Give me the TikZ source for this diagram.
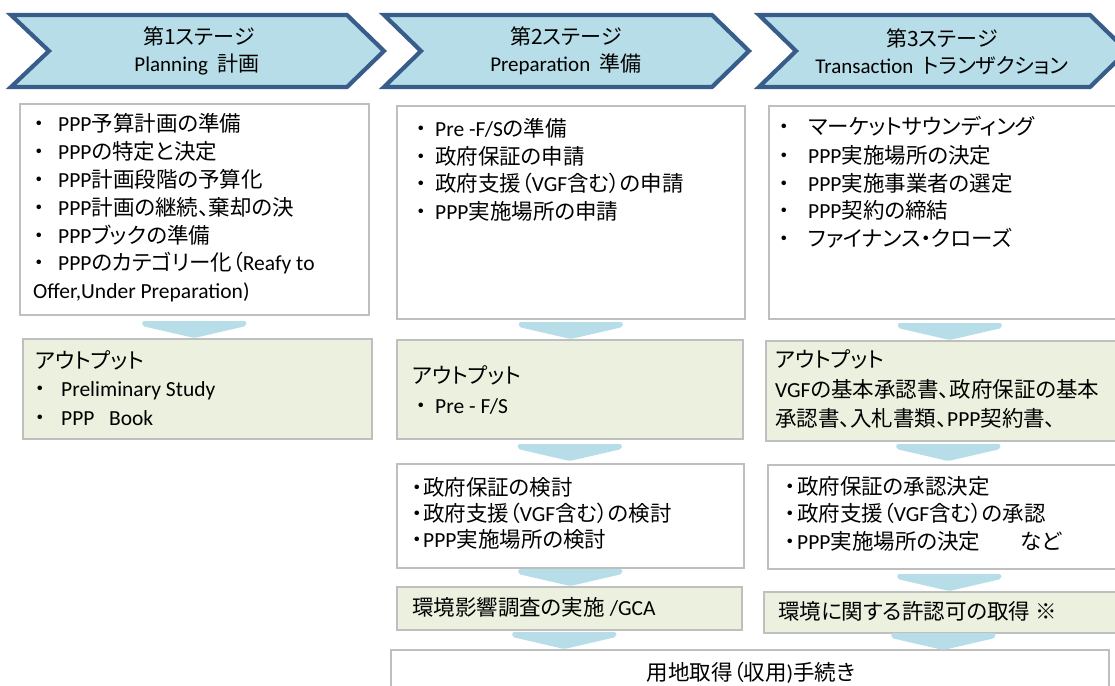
\documentclass[tikz,border=0pt]{standalone}
\usepackage{fontspec}
\setmainfont{Noto Sans CJK JP}[RawFeature=+palt]
\newfontfamily\latfont{Carlito}
\newcommand\lat[1]{{\latfont #1}}
\usetikzlibrary{calc}
\definecolor{chevfill}{HTML}{B7DEE8}
\definecolor{chevline}{HTML}{385D8A}
\definecolor{grnfill}{HTML}{EBF1DE}
\definecolor{boxline}{HTML}{BFBFBF}
\newcommand\bl[1]{\makebox[#1pt][l]{\makebox[20pt][c]{・}}}
\tikzset{
 chev/.style={fill=chevfill, draw=chevline, line width=4.2pt, line join=miter},
 wbox/.style={draw=boxline, line width=1.5pt, fill=white, rectangle, inner sep=0pt, anchor=north west},
 gbox/.style={wbox, fill=grnfill},
 ln/.style={anchor=base west, inner sep=0pt, text height=17pt, text depth=4pt, font=\fontsize{21.5}{28}\selectfont},
 lnc/.style={anchor=base, inner sep=0pt, text height=17pt, text depth=4pt, font=\fontsize{21.5}{28}\selectfont},
 hd/.style={anchor=base, inner sep=0pt, text height=17pt, text depth=4pt, font=\fontsize{21}{28}\selectfont},
 darr/.pic={\fill[chevfill, rounded corners=2pt] (-52,-17) -- (52,-17) -- (52,-12) -- (0,0) -- (-52,-12) -- cycle;}
}
\begin{document}
\begin{tikzpicture}[x=1pt,y=-1pt]
\useasboundingbox (0,0) rectangle (1115,685);
% stage chevrons
\draw[chev] (11,15) -- (347,15) -- (384,51) -- (347,87) -- (11,87) -- (49,51) -- cycle;
\draw[chev] (384,15) -- (712,15) -- (749,51) -- (712,87) -- (384,87) -- (421,51) -- cycle;
\draw[chev] (759,15) -- (1090,15) -- (1127,51) -- (1090,87) -- (759,87) -- (796,51) -- cycle;
\node[hd] (h1a) at (199,45) {第1ステージ};
\node[hd] (h1b) at (197,71) {\lat{Planning\ \ }計画};
\node[hd] (h2a) at (566,45) {第2ステージ};
\node[hd] (h2b) at (566,71) {\lat{Preparation\ \ }準備};
\node[hd] (h3a) at (942,46) {第3ステージ};
\node[hd] (h3b) at (942,73) {\lat{Transaction\ \ }トランザクション};

% boxes
\node[wbox, minimum width=349pt, minimum height=211pt] (c1w) at (19,103) {};
\node[gbox, minimum width=349pt, minimum height=100pt] (c1g) at (22,338) {};
\node[wbox, minimum width=348pt, minimum height=213pt] (c2w) at (396,105) {};
\node[gbox, minimum width=346pt, minimum height=99pt] (c2g) at (396,339) {};
\node[wbox, minimum width=347pt, minimum height=104pt] (c2w2) at (396,463) {};
\node[gbox, minimum width=345pt, minimum height=43pt] (c2g2) at (396,586) {};
\node[wbox, minimum width=718pt, minimum height=60pt] (bot) at (390,649) {};
\node[wbox, minimum width=362pt, minimum height=213pt] (c3w) at (768,105) {};
\node[gbox, minimum width=365pt, minimum height=100pt] (c3g) at (765,340) {};
\node[wbox, minimum width=363pt, minimum height=104pt] (c3w2) at (767,464) {};
\node[gbox, minimum width=367pt, minimum height=41pt] (c3g2) at (763,591) {};

% down arrows
\pic at (c1w.south |- c1g.north) {darr};
\pic at (c2w.south |- c2g.north) {darr};
\pic at ($(c2g.south |- c2w2.north)+(0,-2)$) {darr};
\pic at (c2w2.south |- c2g2.north) {darr};
\pic at ($(c2g2.south |- bot.north)+(-5,0)$) {darr};
\pic at (c3w.south |- c3g.north) {darr};
\pic at ($(c3g.south |- c3w2.north)+(0,-3)$) {darr};
\pic at (c3w2.south |- c3g2.north) {darr};
\pic at ($(c3g2.south |- bot.north)+(-4,1)$) {darr};

% column 1 text
\node[ln] (t1a) at (29,131) {\bl{29}\lat{PPP}予算計画の準備};
\node[ln] (t1b) at (29,159) {\bl{29}\lat{PPP}の特定と決定};
\node[ln] (t1c) at (29,187) {\bl{29}\lat{PPP}計画段階の予算化};
\node[ln] (t1d) at (29,215) {\bl{29}\lat{PPP}計画の継続、棄却の決};
\node[ln] (t1e) at (29,243) {\bl{29}\lat{PPP}ブックの準備};
\node[ln] (t1f) at (29,270) {\bl{29}\lat{PPP}のカテゴリー化（\lat{Reafy to}};
\node[ln] (t1g) at (33,298) {\lat{Offer,Under Preparation)}};
\node[ln] (o1a) at (35,368) {アウトプット};
\node[ln] (o1b) at (30,396) {\bl{31}\lat{Preliminary Study}};
\node[ln] (o1c) at (30,425) {\bl{31}\lat{PPP\ \ \ Book}};

% column 2 text
\node[ln] (t2a) at (411,136) {\bl{24}\lat{Pre -F/S}の準備};
\node[ln] (t2b) at (411,164) {\bl{24}政府保証の申請};
\node[ln] (t2c) at (411,191) {\bl{24}政府支援（\lat{VGF}含む）の申請};
\node[ln] (t2d) at (411,219) {\bl{24}\lat{PPP}実施場所の申請};
\node[ln] (o2a) at (412,383) {アウトプット};
\node[ln] (o2b) at (411,413) {\bl{24}\lat{Pre - F/S}};
\node[ln] (k2a) at (407,495) {\bl{16}政府保証の検討};
\node[ln] (k2b) at (407,521) {\bl{16}政府支援（\lat{VGF}含む）の検討};
\node[ln] (k2c) at (407,547) {\bl{16}\lat{PPP}実施場所の検討};
\node[ln] (e2) at (412,615) {環境影響調査の実施\lat{ /GCA}};
\node[lnc] (tbot) at (751,680) {用地取得（収用\lat{)}手続き};

% column 3 text
\node[ln] (t3a) at (774,134) {\bl{34}マーケットサウンディング};
\node[ln] (t3b) at (774,163) {\bl{34}\lat{PPP}実施場所の決定};
\node[ln] (t3c) at (774,191) {\bl{34}\lat{PPP}実施事業者の選定};
\node[ln] (t3d) at (774,218) {\bl{34}\lat{PPP}契約の締結};
\node[ln] (t3e) at (774,246) {\bl{34}ファイナンス・クローズ};
\node[ln] (o3a) at (775,367) {アウトプット};
\node[ln] (o3b) at (775,397) {\lat{VGF}の基本承認書、政府保証の基本};
\node[ln] (o3c) at (775,426) {承認書、入札書類、\lat{PPP}契約書、};
\node[ln] (k3a) at (780,494) {\bl{17}政府保証の承認決定};
\node[ln] (k3b) at (780,521) {\bl{17}政府支援（\lat{VGF}含む）の承認};
\node[ln] (k3c) at (780,549) {\bl{17}\lat{PPP}実施場所の決定\hspace{40pt}など};
\node[ln] (e3) at (778,619) {環境に関する許認可の取得 ※};
\end{tikzpicture}
\end{document}
